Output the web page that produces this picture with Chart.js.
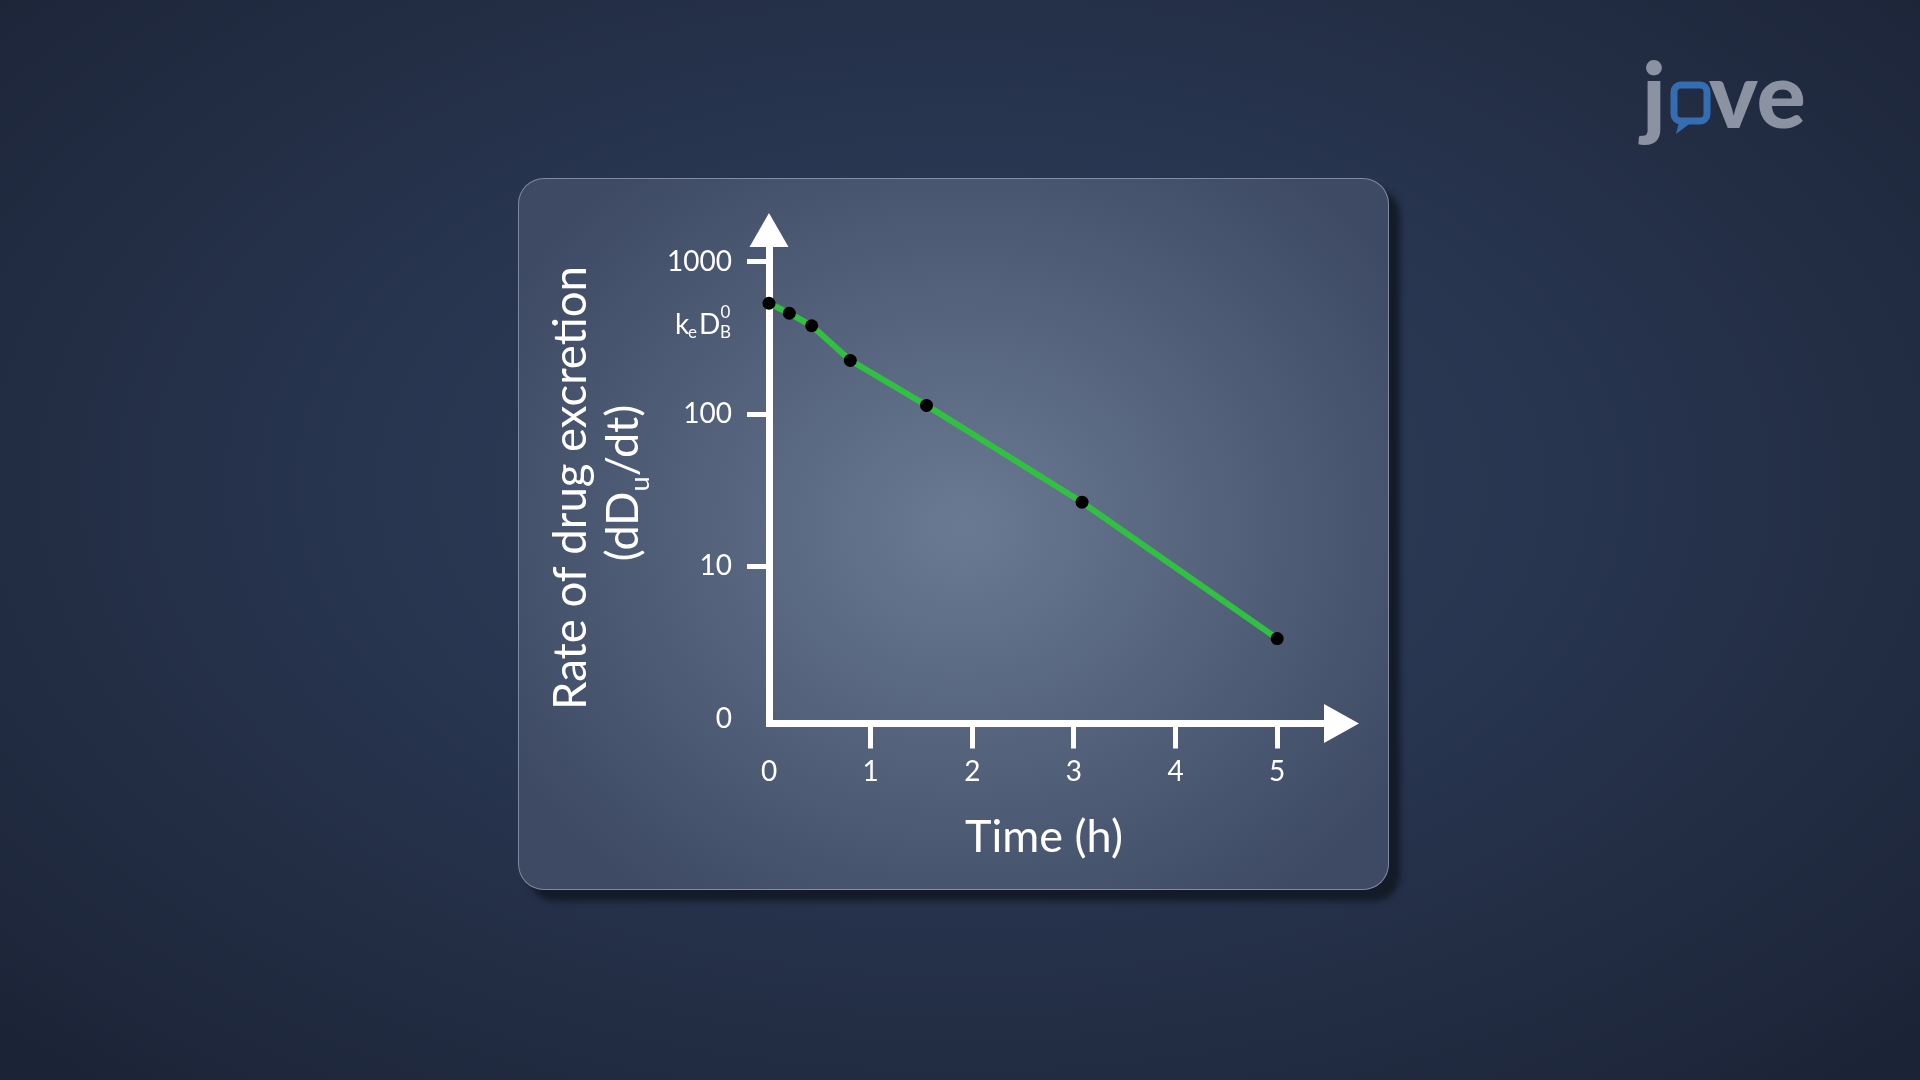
<!DOCTYPE html>
<html>
<head>
<meta charset="utf-8">
<title>Rate of drug excretion</title>
<script src="https://cdn.jsdelivr.net/npm/chart.js@4.4.1/dist/chart.umd.min.js"></script>
<style>
  html, body { margin: 0; padding: 0; width: 1920px; height: 1080px; overflow: hidden; }
  body {
    background: radial-gradient(ellipse 70% 75% at 50% 45%, #2f3e5a 0%, #28354f 45%, #1b2336 100%);
    font-family: Lato, sans-serif;
  }
  .card {
    position: absolute; left: 518px; top: 178px; width: 869px; height: 710px;
    border-radius: 26px;
    border: 1.5px solid rgba(205, 215, 232, 0.45);
    background: radial-gradient(ellipse 60% 65% at 51% 49%, #6b7a93 0%, #56647e 45%, #3e4a63 100%);
    box-shadow: 11px 11px 6px rgba(18, 24, 37, 0.9);
  }
  #chart { position: absolute; left: 0; top: 0; }
</style>
</head>
<body>
<div class="card"></div>
<canvas id="chart" width="1920" height="1080"></canvas>
<script>
// time (h) and excretion rate
const times = [0, 0.2, 0.42, 0.8, 1.55, 3.08, 5];
const rates = [534, 459, 380, 225, 114, 26.4, 3.36];

const xTicks = [0, 1, 2, 3, 4, 5];
const yTicks = [1, 10, 100, 1000];
const yTickLabels = ['0', '10', '100', '1000'];

Chart.defaults.font.family = 'Lato';

const decorations = {
  id: 'decorations',
  afterDraw(chart) {
    const { ctx, chartArea } = chart;
    ctx.save();
    ctx.fillStyle = '#fff';

    // arrow heads on both axes
    const ox = chartArea.left;
    const oy = chartArea.bottom;
    ctx.beginPath();
    ctx.moveTo(ox, chartArea.top - 34);
    ctx.lineTo(ox + 19.5, chartArea.top);
    ctx.lineTo(ox - 19.5, chartArea.top);
    ctx.closePath();
    ctx.fill();
    ctx.beginPath();
    ctx.moveTo(chartArea.right + 31, oy);
    ctx.lineTo(chartArea.right - 4, oy - 19.5);
    ctx.lineTo(chartArea.right - 4, oy + 19.5);
    ctx.closePath();
    ctx.fill();

    // x title
    ctx.textBaseline = 'alphabetic';
    ctx.textAlign = 'center';
    ctx.font = '45px Lato';
    ctx.fillText('Time (h)', 1044, 852);

    // y title, two lines, rotated
    ctx.save();
    ctx.translate(586, 488);
    ctx.rotate(-Math.PI / 2);
    ctx.font = '45.5px Lato';
    ctx.fillText('Rate of drug excretion', 0, 0);
    ctx.restore();

    ctx.save();
    ctx.translate(638, 483);
    ctx.rotate(-Math.PI / 2);
    ctx.textAlign = 'left';
    ctx.font = '45px Lato';
    const a = '(dD', b = '/dt)';
    const wa = ctx.measureText(a).width;
    const wb = ctx.measureText(b).width;
    ctx.font = '27px Lato';
    const wu = ctx.measureText('u').width;
    let sx = -(wa + wu + wb) / 2;
    ctx.font = '45px Lato';
    ctx.fillText(a, sx, 0);
    ctx.font = '27px Lato';
    ctx.fillText('u', sx + wa, 11);
    ctx.font = '45px Lato';
    ctx.fillText(b, sx + wa + wu, 0);
    ctx.restore();

    // k_e D_B^0 label
    ctx.textAlign = 'left';
    ctx.font = '28px Lato';
    ctx.fillText('k', 675, 334);
    ctx.fillText('D', 699, 334);
    ctx.font = '17px Lato';
    ctx.fillText('e', 688, 338);
    ctx.fillText('B', 720, 338);
    ctx.fillText('0', 720.5, 318);

    // logo
    ctx.fillStyle = '#8b93a2';
    ctx.font = '900 92px Lato';
    ctx.fillText('j', 1642, 128);
    ctx.fillText('ve', 1709, 128);
    ctx.strokeStyle = '#356db3';
    ctx.lineWidth = 7;
    ctx.beginPath();
    ctx.roundRect(1674, 85, 33, 36, 7);
    ctx.stroke();
    ctx.fillStyle = '#356db3';
    ctx.beginPath();
    ctx.moveTo(1679, 122);
    ctx.lineTo(1676, 134);
    ctx.lineTo(1692, 122);
    ctx.closePath();
    ctx.fill();

    ctx.restore();
  }
};

new Chart(document.getElementById('chart'), {
  type: 'scatter',
  data: {
    datasets: [{
      data: times.map((t, i) => ({ x: t, y: rates[i] })),
      showLine: true,
      borderColor: '#31c042',
      borderWidth: 6,
      pointRadius: 6.5,
      pointHoverRadius: 6.5,
      pointBackgroundColor: '#000',
      pointBorderWidth: 0,
      clip: false,
    }],
  },
  options: {
    responsive: false,
    animation: false,
    events: [],
    layout: { padding: { left: 649, right: 592, top: 247, bottom: 236.5 } },
    plugins: { legend: { display: false }, tooltip: { enabled: false } },
    scales: {
      x: {
        type: 'linear',
        min: 0,
        max: 5.5,
        afterFit: (scale) => { scale.height = 120; },
        afterBuildTicks: (scale) => { scale.ticks = xTicks.map(v => ({ value: v })); },
        grid: {
          drawOnChartArea: false,
          tickLength: 25,
          tickWidth: 5,
          tickColor: (ctx) => (ctx.tick && ctx.tick.value === 0 ? 'rgba(0,0,0,0)' : '#fff'),
        },
        border: { color: '#fff', width: 7 },
        ticks: { color: '#fff', font: { size: 28 }, padding: 7, maxRotation: 0 },
      },
      y: {
        type: 'logarithmic',
        min: 0.93,
        max: 1250,
        afterFit: (scale) => { scale.width = 120; },
        afterBuildTicks: (scale) => { scale.ticks = yTicks.map(v => ({ value: v })); },
        grid: {
          drawOnChartArea: false,
          tickLength: 22,
          tickWidth: 5,
          tickColor: (ctx) => (ctx.tick && ctx.tick.value === 1 ? 'rgba(0,0,0,0)' : '#fff'),
        },
        border: { color: '#fff', width: 7 },
        ticks: {
          color: '#fff',
          font: { size: 28 },
          padding: 15,
          callback: (value, index) => yTickLabels[index],
        },
      },
    },
  },
  plugins: [decorations],
});
</script>
</body>
</html>
